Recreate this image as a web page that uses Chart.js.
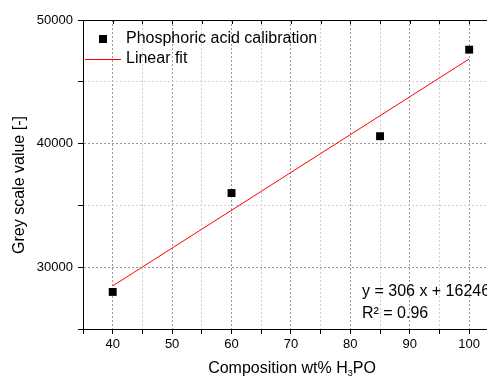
<!DOCTYPE html>
<html>
<head>
<meta charset="utf-8">
<script src="https://cdn.jsdelivr.net/npm/chart.js@4.4.1/dist/chart.umd.min.js"></script>
<style>
html, body { margin: 0; padding: 0; background: #fff; }
</style>
</head>
<body>
<canvas id="chart" width="487" height="377"></canvas>
<script>
// data
const compX = [40, 60, 85, 100];
const greyY = [28000, 36000, 40600, 47600];
const fitX = [40, 100];
const fitY = [28486, 46846];
const xLabels = [40, 50, 60, 70, 80, 90, 100];
const yLabels = [30000, 40000, 50000];

const FONT = "'Liberation Sans', Arial, sans-serif";

// top axis, legend, axis titles and fit text
const extras = {
  id: 'extras',
  afterDraw(chart) {
    const { ctx, chartArea: a, scales: { x } } = chart;
    ctx.save();
    ctx.strokeStyle = '#000';
    ctx.lineWidth = 1;
    ctx.beginPath();
    ctx.moveTo(a.left, a.top + 0.5);
    ctx.lineTo(a.right, a.top + 0.5);
    x.ticks.forEach(t => {
      const px = Math.round(x.getPixelForValue(t.value)) + 0.5;
      ctx.moveTo(px, a.top);
      ctx.lineTo(px, a.top + 4);
    });
    ctx.stroke();

    // legend
    ctx.fillStyle = '#000';
    ctx.fillRect(99, 35, 8, 8);
    ctx.strokeStyle = '#ff0000';
    ctx.beginPath();
    ctx.moveTo(85, 59.5);
    ctx.lineTo(121, 59.5);
    ctx.stroke();
    ctx.font = '16px ' + FONT;
    ctx.textBaseline = 'middle';
    ctx.textAlign = 'left';
    ctx.fillText('Phosphoric acid calibration', 126, 39);
    ctx.fillText('Linear fit', 126, 59);

    // fit equation
    ctx.fillText('y = 306 x + 16246', 362, 292);
    ctx.fillText('R² = 0.96', 362, 314);

    // x title with subscript
    const t1 = 'Composition wt% H', t2 = '3', t3 = 'PO';
    ctx.font = '16px ' + FONT;
    const w1 = ctx.measureText(t1).width, w3 = ctx.measureText(t3).width;
    ctx.font = '9px ' + FONT;
    const w2 = ctx.measureText(t2).width;
    let tx = 292 - (w1 + w2 + w3) / 2;
    ctx.font = '16px ' + FONT;
    ctx.fillText(t1, tx, 369);
    ctx.font = '9px ' + FONT;
    ctx.fillText(t2, tx + w1, 374);
    ctx.font = '16px ' + FONT;
    ctx.fillText(t3, tx + w1 + w2, 369);

    // y title
    ctx.translate(20, 185);
    ctx.rotate(-Math.PI / 2);
    ctx.textAlign = 'center';
    ctx.fillText('Grey scale value [-]', 0, 0);
    ctx.restore();
  }
};

new Chart(document.getElementById('chart'), {
  type: 'scatter',
  data: {
    datasets: [
      {
        label: 'Phosphoric acid calibration',
        data: compX.map((v, i) => ({ x: v, y: greyY[i] })),
        pointStyle: 'rect',
        pointRadius: 5.6,
        backgroundColor: '#000',
        borderColor: '#000',
        borderWidth: 0
      },
      {
        label: 'Linear fit',
        type: 'line',
        data: fitX.map((v, i) => ({ x: v, y: fitY[i] })),
        borderColor: '#ff0000',
        borderWidth: 1,
        pointRadius: 0,
        fill: false
      }
    ]
  },
  options: {
    responsive: false,
    animation: false,
    layout: { autoPadding: false, padding: { top: 20, right: 0, left: 0, bottom: 0 } },
    plugins: {
      legend: { display: false },
      tooltip: { enabled: false }
    },
    scales: {
      x: {
        type: 'linear',
        min: 35,
        max: 103,
        afterFit: s => { s.height = 48; },
        ticks: {
          stepSize: 5,
          includeBounds: false,
          color: '#000',
          padding: 3,
          maxRotation: 0,
          autoSkip: false,
          font: { family: FONT, size: 13 },
          callback: v => xLabels.includes(v) ? String(v) : ''
        },
        grid: {
          color: c => (c.tick && c.tick.value % 10 === 0) ? '#9a9a9a' : '#cfcfcf',
          tickColor: '#000',
          tickLength: 5,
          lineWidth: 1
        },
        border: { display: true, color: '#000', width: 1, dash: [2, 2] }
      },
      y: {
        min: 25000,
        max: 50000,
        afterFit: s => { s.width = 83; },
        ticks: {
          stepSize: 5000,
          color: '#000',
          padding: 5,
          font: { family: FONT, size: 13 },
          callback: v => yLabels.includes(v) ? String(v) : ''
        },
        grid: {
          color: c => (c.tick && c.tick.value % 10000 === 0) ? '#9a9a9a' : '#cfcfcf',
          tickColor: '#000',
          tickLength: 5,
          lineWidth: 1
        },
        border: { display: true, color: '#000', width: 1, dash: [2, 2] }
      }
    }
  },
  plugins: [extras]
});
</script>
</body>
</html>
